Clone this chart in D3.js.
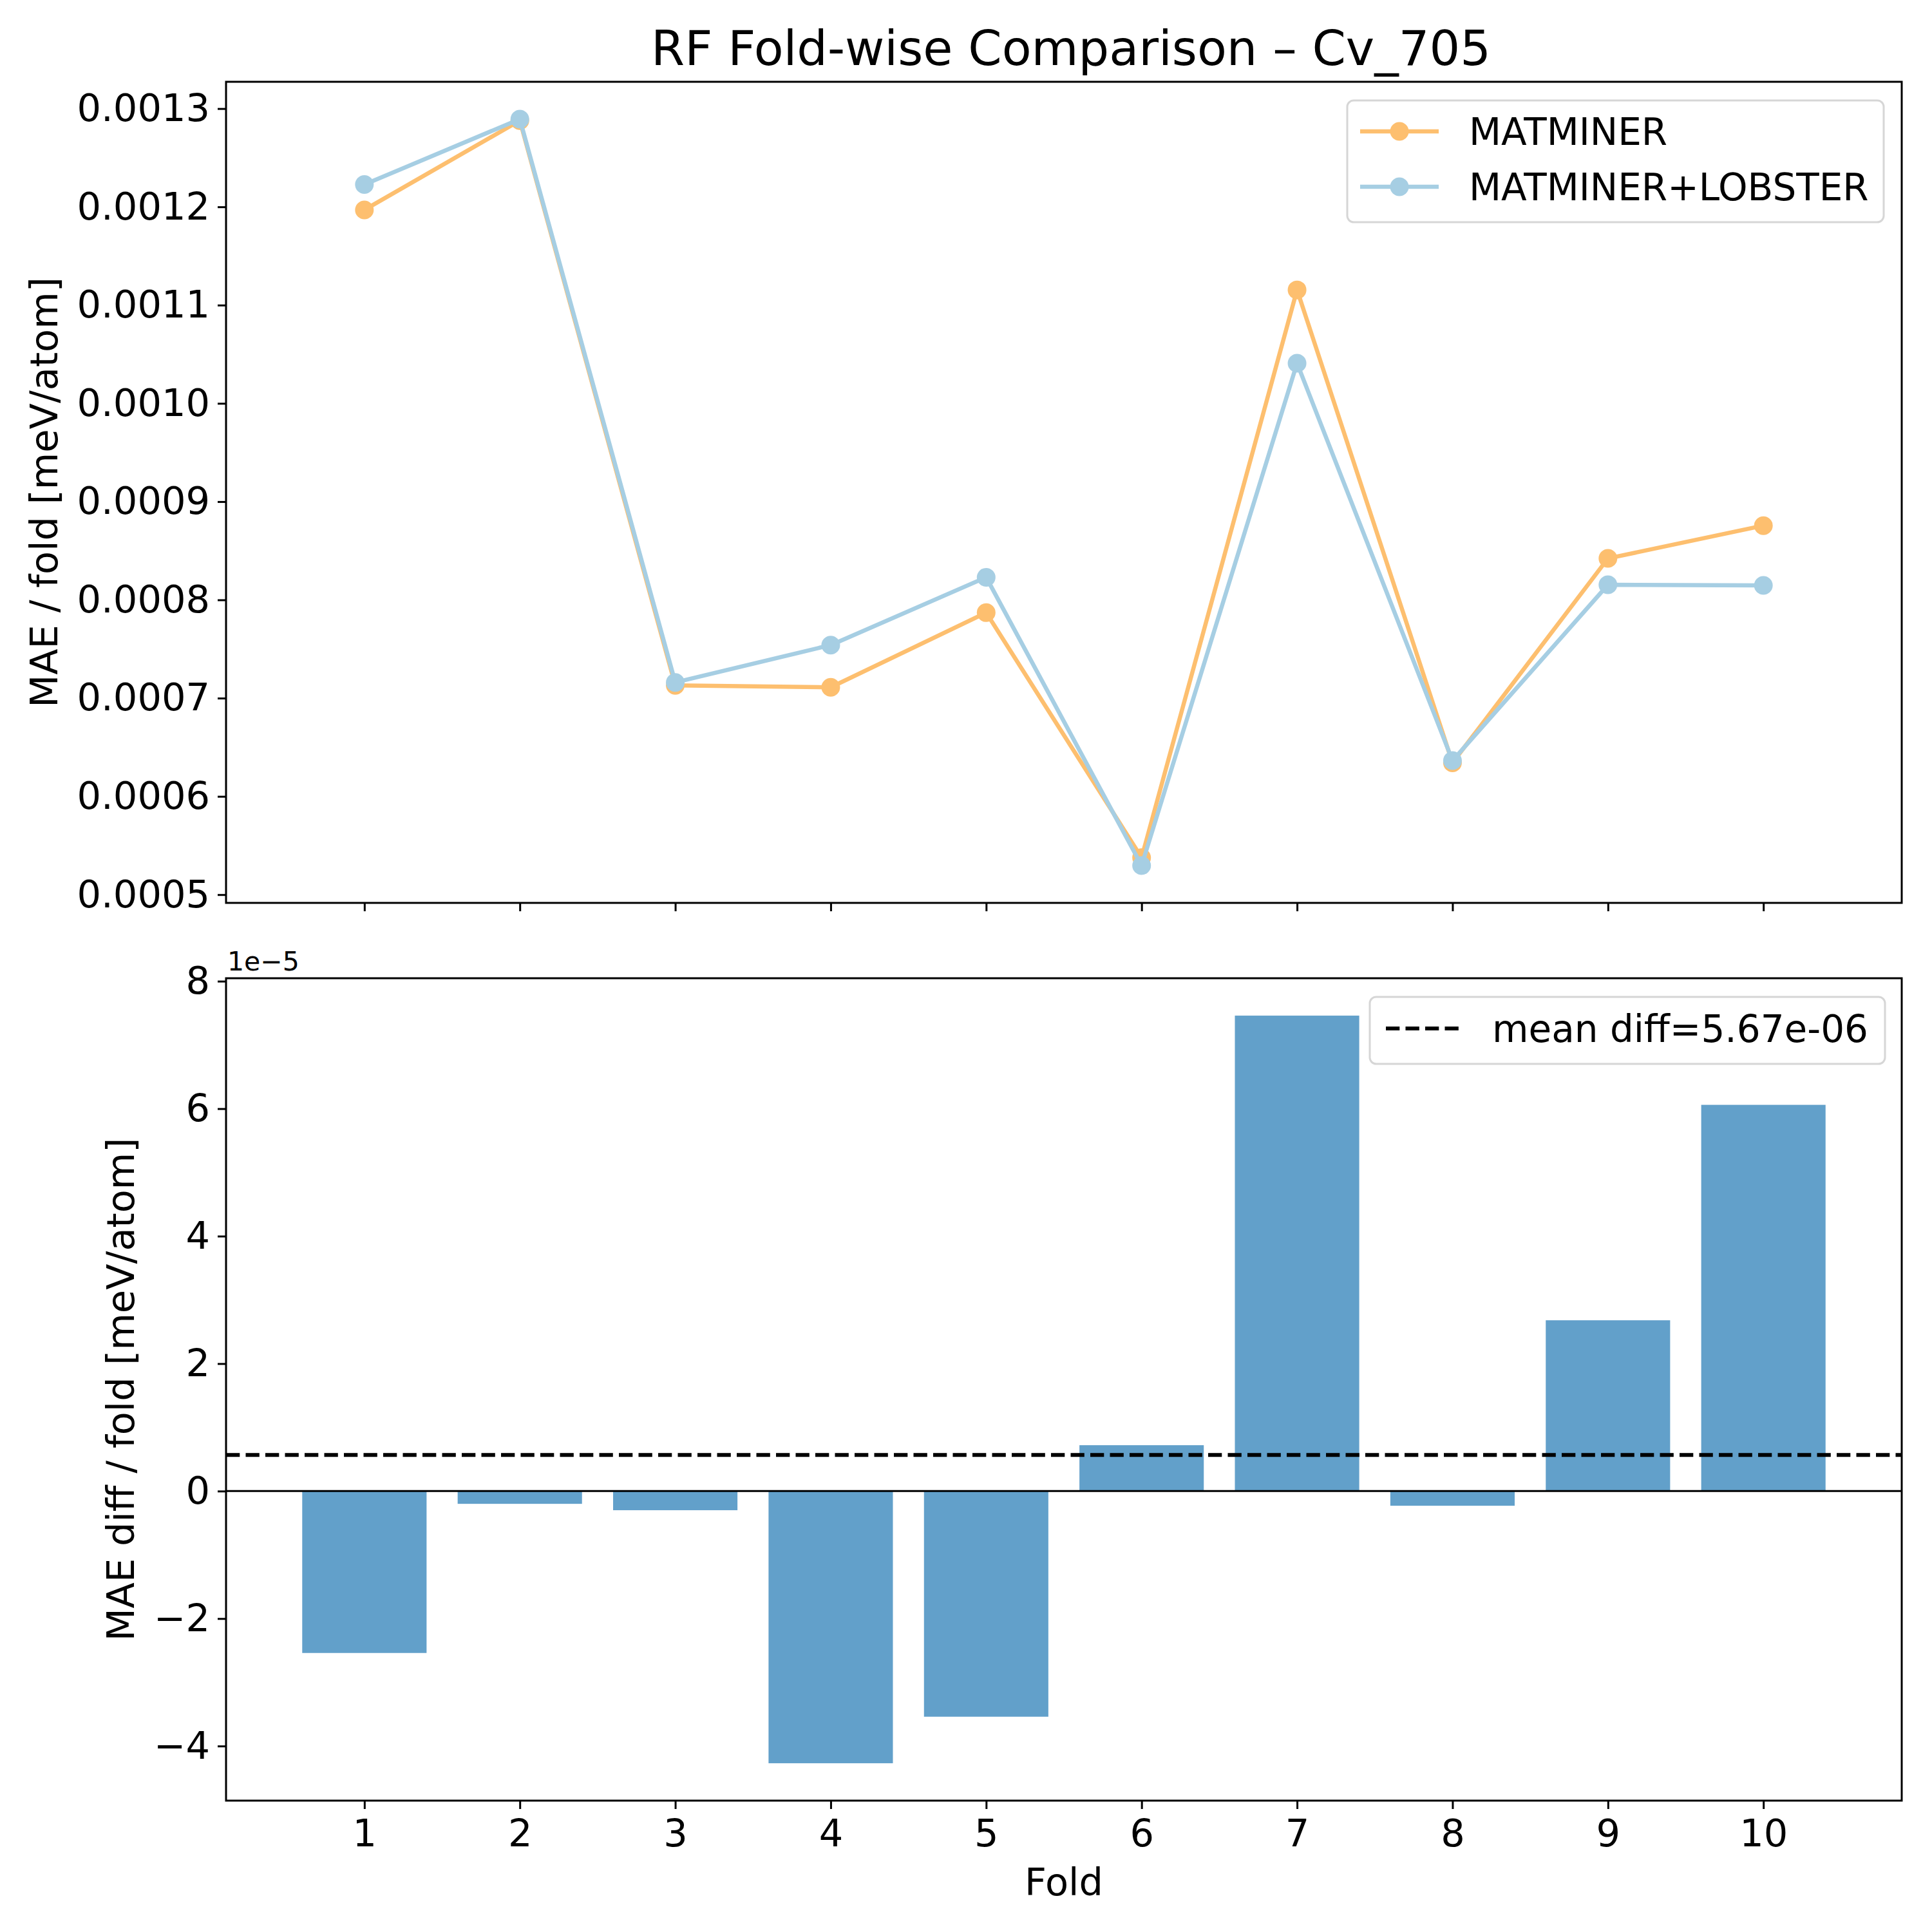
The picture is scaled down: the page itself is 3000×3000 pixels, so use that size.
<!DOCTYPE html>
<html>
<head>
<meta charset="utf-8">
<script src="https://cdn.jsdelivr.net/npm/d3@7"></script>
<style>
  body { margin: 0; background: #fff; }
  text { font-family: "DejaVu Sans", sans-serif; fill: #000; }
</style>
</head>
<body>
<script>
const width = 3000;
const height = 3000;
const fontSize = 59;
const legendFontSize = 58;

// data
const folds = [1, 2, 3, 4, 5, 6, 7, 8, 9, 10];
const matminer = [0.0011969, 0.0012878, 0.000713, 0.000711, 0.000787, 0.0005377, 0.0011155, 0.0006342, 0.0008422, 0.0008756];
const lobster = [0.0012227, 0.0012893, 0.000716, 0.000754, 0.000823, 0.0005296, 0.0010409, 0.0006364, 0.0008154, 0.0008147];
// MAE diff per fold, in units of 1e-5 (as on the axis)
const diffs = [-2.54, -0.2, -0.3, -4.27, -3.54, 0.72, 7.46, -0.23, 2.68, 6.06];
const meanDiff = 5.67e-6;
const diffExponent = -5;

const topTicks = [0.0005, 0.0006, 0.0007, 0.0008, 0.0009, 0.001, 0.0011, 0.0012, 0.0013];
const bottomTicks = [-4, -2, 0, 2, 4, 6, 8];
const seriesNames = ["MATMINER", "MATMINER+LOBSTER"];
const seriesColors = ["#fdbf6f", "#a6cee3"];
const barColor = "#1f77b4";
const barWidth = 0.8;

const title = "RF Fold-wise Comparison \u2013 Cv_705";
const topYLabel = "MAE / fold [meV/atom]";
const bottomYLabel = "MAE diff / fold [meV/atom]";
const xLabel = "Fold";
const meanLabel = `mean diff=${meanDiff.toExponential(2).replace(/e([+-])(\d)$/, "e$10$2")}`;

// panel geometry
const left = 351;
const right = 2953;
const topPanel = { top: 127, bottom: 1402 };
const bottomPanel = { top: 1519, bottom: 2796 };

const svg = d3
  .select("body")
  .append("svg")
  .attr("width", width)
  .attr("height", height)
  .style("background", "#fff");

function padded(lo, hi) {
  const m = (hi - lo) * 0.05;
  return [lo - m, hi + m];
}

const x = d3
  .scaleLinear()
  .domain(padded(d3.min(folds) - barWidth / 2, d3.max(folds) + barWidth / 2))
  .range([left, right]);

const yTop = d3
  .scaleLinear()
  .domain(padded(d3.min(matminer.concat(lobster)), d3.max(matminer.concat(lobster))))
  .range([topPanel.bottom, topPanel.top]);

const yBottom = d3
  .scaleLinear()
  .domain(padded(Math.min(0, d3.min(diffs)), Math.max(0, d3.max(diffs))))
  .range([bottomPanel.bottom, bottomPanel.top]);

drawTopPanel();
drawBottomPanel();

svg
  .append("text")
  .attr("x", (left + right) / 2 + 11)
  .attr("y", 101)
  .attr("text-anchor", "middle")
  .attr("font-size", 75)
  .text(title);

function styleAxis(g) {
  g.select(".domain").remove();
  g.selectAll(".tick line").attr("stroke", "#000").attr("stroke-width", 3);
  g.selectAll(".tick text").attr("font-size", fontSize).attr("font-family", "DejaVu Sans");
}

function drawFrame(panel) {
  svg
    .append("rect")
    .attr("x", left)
    .attr("y", panel.top)
    .attr("width", right - left)
    .attr("height", panel.bottom - panel.top)
    .attr("fill", "none")
    .attr("stroke", "#000")
    .attr("stroke-width", 3);
}

function drawTopPanel() {
  const series = [matminer, lobster];
  const line = d3
    .line()
    .x((d, i) => x(folds[i]))
    .y((d) => yTop(d));

  series.forEach((values, s) => {
    svg
      .append("path")
      .datum(values)
      .attr("d", line)
      .attr("fill", "none")
      .attr("stroke", seriesColors[s])
      .attr("stroke-width", 6.5)
      .attr("stroke-linejoin", "round");
    svg
      .selectAll(`.pt${s}`)
      .data(values)
      .enter()
      .append("circle")
      .attr("class", `pt${s}`)
      .attr("cx", (d, i) => x(folds[i]))
      .attr("cy", (d) => yTop(d))
      .attr("r", 14.5)
      .attr("fill", seriesColors[s]);
  });

  svg
    .append("g")
    .attr("transform", `translate(${left},0)`)
    .call(d3.axisLeft(yTop).tickValues(topTicks).tickFormat(d3.format(".4f")).tickSize(13).tickPadding(12))
    .call(styleAxis);

  svg
    .append("g")
    .attr("transform", `translate(0,${topPanel.bottom})`)
    .call(d3.axisBottom(x).tickValues(folds).tickFormat("").tickSize(13))
    .call(styleAxis);

  drawFrame(topPanel);

  svg
    .append("text")
    .attr("transform", `translate(68,${(topPanel.top + topPanel.bottom) / 2}) rotate(-90)`)
    .attr("text-anchor", "middle")
    .attr("dy", "0.35em")
    .attr("font-size", fontSize)
    .text(topYLabel);

  // legend
  const lg = svg.append("g");
  lg.append("rect")
    .attr("x", 2092)
    .attr("y", 156)
    .attr("width", 833)
    .attr("height", 189)
    .attr("rx", 10)
    .attr("fill", "#fff")
    .attr("fill-opacity", 0.8)
    .attr("stroke", "#d6d6d6")
    .attr("stroke-width", 3);
  seriesNames.forEach((name, s) => {
    const yy = 204 + s * 86;
    lg.append("line")
      .attr("x1", 2112)
      .attr("x2", 2234)
      .attr("y1", yy)
      .attr("y2", yy)
      .attr("stroke", seriesColors[s])
      .attr("stroke-width", 6.5);
    lg.append("circle").attr("cx", 2173).attr("cy", yy).attr("r", 14.5).attr("fill", seriesColors[s]);
    lg.append("text")
      .attr("x", 2281)
      .attr("y", yy)
      .attr("dy", "0.36em")
      .attr("font-size", legendFontSize)
      .text(name);
  });
}

function drawBottomPanel() {
  const bw = x(barWidth) - x(0);
  svg
    .selectAll(".bar")
    .data(diffs)
    .enter()
    .append("rect")
    .attr("class", "bar")
    .attr("x", (d, i) => x(folds[i]) - bw / 2)
    .attr("width", bw)
    .attr("y", (d) => yBottom(Math.max(0, d)))
    .attr("height", (d) => Math.abs(yBottom(d) - yBottom(0)))
    .attr("fill", barColor)
    .attr("fill-opacity", 0.7);

  svg
    .append("line")
    .attr("x1", left)
    .attr("x2", right)
    .attr("y1", yBottom(0))
    .attr("y2", yBottom(0))
    .attr("stroke", "#000")
    .attr("stroke-width", 3);

  const meanY = yBottom(meanDiff / Math.pow(10, diffExponent));
  svg
    .append("line")
    .attr("x1", left)
    .attr("x2", right)
    .attr("y1", meanY)
    .attr("y2", meanY)
    .attr("stroke", "#000")
    .attr("stroke-width", 5.8)
    .attr("stroke-dasharray", "21.3,9.2");

  svg
    .append("g")
    .attr("transform", `translate(${left},0)`)
    .call(d3.axisLeft(yBottom).tickValues(bottomTicks).tickFormat(d3.format("d")).tickSize(13).tickPadding(12))
    .call(styleAxis);

  svg
    .append("g")
    .attr("transform", `translate(0,${bottomPanel.bottom})`)
    .call(d3.axisBottom(x).tickValues(folds).tickSize(13).tickPadding(16))
    .call(styleAxis);

  drawFrame(bottomPanel);

  svg
    .append("text")
    .attr("x", left + 2)
    .attr("y", bottomPanel.top - 12)
    .attr("font-size", 41)
    .text(`1e\u2212${-diffExponent}`);

  svg
    .append("text")
    .attr("transform", `translate(187,${(bottomPanel.top + bottomPanel.bottom) / 2}) rotate(-90)`)
    .attr("text-anchor", "middle")
    .attr("dy", "0.35em")
    .attr("font-size", fontSize)
    .text(bottomYLabel);

  svg
    .append("text")
    .attr("x", (left + right) / 2)
    .attr("y", 2943)
    .attr("text-anchor", "middle")
    .attr("font-size", fontSize)
    .text(xLabel);

  // legend
  const lg = svg.append("g");
  lg.append("rect")
    .attr("x", 2127)
    .attr("y", 1548)
    .attr("width", 800)
    .attr("height", 104)
    .attr("rx", 10)
    .attr("fill", "#fff")
    .attr("fill-opacity", 0.8)
    .attr("stroke", "#d6d6d6")
    .attr("stroke-width", 3);
  lg.append("line")
    .attr("x1", 2152)
    .attr("x2", 2265)
    .attr("y1", 1597)
    .attr("y2", 1597)
    .attr("stroke", "#000")
    .attr("stroke-width", 5.8)
    .attr("stroke-dasharray", "21.3,9.2");
  lg.append("text")
    .attr("x", 2317)
    .attr("y", 1597)
    .attr("dy", "0.36em")
    .attr("font-size", legendFontSize)
    .text(meanLabel);
}
</script>
</body>
</html>
